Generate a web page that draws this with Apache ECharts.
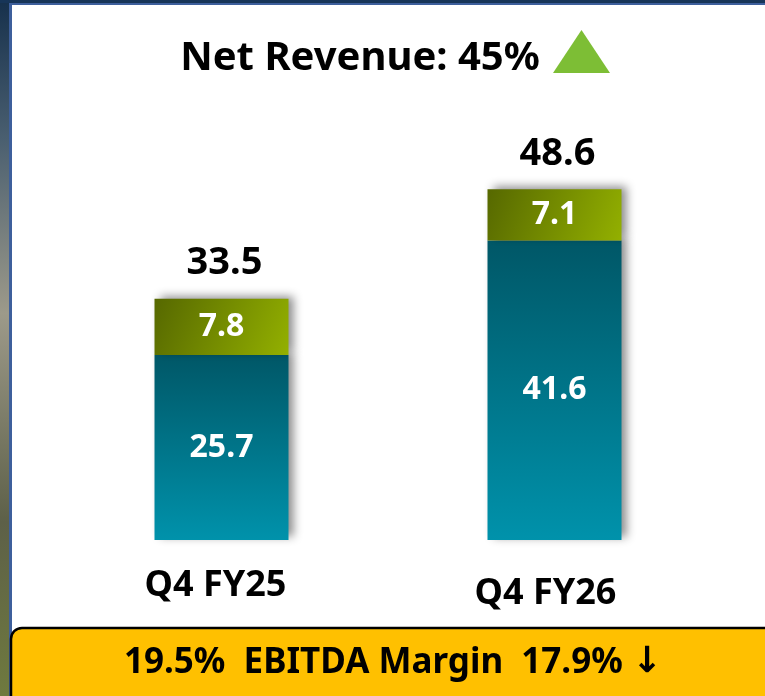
<!DOCTYPE html>
<html>
<head>
<meta charset="utf-8">
<script src="https://cdn.jsdelivr.net/npm/echarts@6/dist/echarts.min.js"></script>
<style>
  html, body { margin: 0; padding: 0; background: #fff; }
  #main { width: 765px; height: 696px; }
</style>
</head>
<body>
<div id="main"></div>
<script>
// data
const categories = ["Q4 FY25", "Q4 FY26"];
const baseValues = [25.7, 41.6];
const topValues = [7.8, 7.1];
const totals = [33.5, 48.6];
const titleText = "Net Revenue: 45%";
const footerText = "19.5%  EBITDA Margin  17.9% ";

const FONT = "Noto Sans";

const chart = echarts.init(document.getElementById("main"));

const blueGrad = new echarts.graphic.LinearGradient(0, 0, 0, 1, [
  { offset: 0, color: "#005767" },
  { offset: 1, color: "#0092ab" }
]);
const greenGrad = new echarts.graphic.LinearGradient(0, 0, 1, 1, [
  { offset: 0, color: "#566800" },
  { offset: 1, color: "#93b000" }
]);

// shadow like the slide
const shadow = {
  shadowColor: "rgba(0,0,0,0.45)",
  shadowBlur: 9,
  shadowOffsetX: 5,
  shadowOffsetY: -3
};

let option = {
  animation: false,
  backgroundColor: "#ffffff",
  grid: { left: 55, right: 44, top: 108, bottom: 156 },
  xAxis: {
    type: "category",
    data: categories,
    axisLine: { show: false },
    axisTick: { show: false },
    axisLabel: {
      margin: 28,
      formatter: function(v, i) {
        return i === 0 ? "{a|" + v + "}" : "{b|" + v + "}";
      },
      rich: {
        a: { fontFamily: FONT, fontWeight: "bold", fontSize: 36, color: "#000", padding: [0, 12, 0, 0] },
        b: { fontFamily: FONT, fontWeight: "bold", fontSize: 36, color: "#000", padding: [8, 18, 0, 0] }
      }
    }
  },
  yAxis: {
    type: "value",
    min: 0,
    max: 60,
    show: false,
    splitLine: { show: false }
  },
  series: [
    {
      name: "base",
      type: "bar",
      stack: "rev",
      barWidth: 134,
      data: baseValues,
      itemStyle: Object.assign({ color: blueGrad }, shadow),
      label: {
        show: true,
        position: "inside",
        color: "#fff",
        fontFamily: FONT,
        fontWeight: "bold",
        fontSize: 32
      }
    },
    {
      name: "top",
      type: "bar",
      stack: "rev",
      barWidth: 134,
      data: topValues,
      itemStyle: Object.assign({ color: greenGrad }, shadow),
      label: {
        show: true,
        position: "inside",
        color: "#fff",
        fontFamily: FONT,
        fontWeight: "bold",
        fontSize: 32
      }
    },
    {
      // invisible bar only used to place the total on top
      name: "total",
      type: "bar",
      barWidth: 134,
      barGap: "-100%",
      z: 1,
      silent: true,
      data: totals,
      itemStyle: { color: "rgba(0,0,0,0)" },
      label: {
        show: true,
        position: "top",
        distance: 17,
        offset: [3, 0],
        color: "#000",
        fontFamily: FONT,
        fontWeight: "bold",
        fontSize: 38
      }
    }
  ],
  graphic: [
    // frame behind the white panel
    {
      type: "rect", z: -20, silent: true,
      shape: { x: 0, y: 0, width: 765, height: 696 },
      style: {
        fill: new echarts.graphic.LinearGradient(0, 0, 0, 1, [
          { offset: 0, color: "#16304c" },
          { offset: 0.2, color: "#4a5f70" },
          { offset: 0.45, color: "#9d9a8a" },
          { offset: 0.75, color: "#5d6048" },
          { offset: 1, color: "#6f7a3e" }
        ])
      }
    },
    {
      type: "rect", z: -19, silent: true,
      shape: { x: 0, y: 0, width: 765, height: 3 },
      style: { fill: "#173558" }
    },
    {
      type: "rect", z: -18, silent: true,
      shape: { x: 9, y: 3, width: 760, height: 700 },
      style: { fill: "#3d5f9c" }
    },
    {
      type: "rect", z: -17, silent: true,
      shape: { x: 12, y: 5, width: 760, height: 700 },
      style: { fill: "#ffffff" }
    },
    // title
    {
      type: "text", z: 10,
      x: 360, y: 59,
      style: {
        text: titleText,
        fontFamily: FONT,
        fontWeight: "bold",
        fontSize: 40,
        fill: "#000",
        align: "center",
        verticalAlign: "middle"
      }
    },
    {
      type: "polygon", z: 10,
      shape: { points: [[553, 73], [610, 73], [581.5, 30]] },
      style: { fill: "#7dbe35" }
    },
    // EBITDA box
    {
      type: "rect", z: 10,
      shape: { x: 11, y: 628, width: 770, height: 90, r: 11 },
      style: { fill: "#ffc000", stroke: "#000", lineWidth: 2.5 }
    },
    {
      type: "text", z: 11,
      x: 393, y: 663,
      style: {
        text: "{t|" + footerText + "}{arr|\u2193}",
        fill: "#000",
        align: "center",
        verticalAlign: "middle",
        rich: {
          t: { fontFamily: FONT, fontWeight: "bold", fontSize: 35, fill: "#000" },
          arr: { fontFamily: "DejaVu Sans", fontWeight: "bold", fontSize: 36, fill: "#000" }
        }
      }
    }
  ]
};

chart.setOption(option);
</script>
</body>
</html>
